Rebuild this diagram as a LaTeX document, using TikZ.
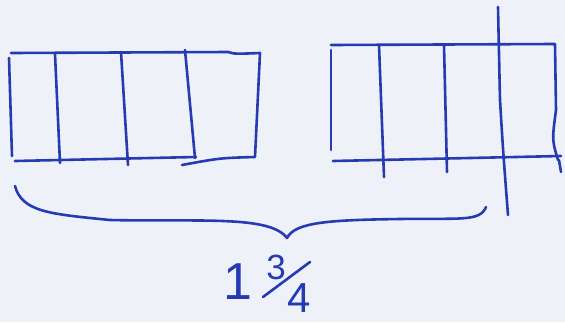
\documentclass[tikz,border=0pt]{standalone}
\usepackage{fontspec}
\setmainfont{Liberation Sans}
\definecolor{ink}{RGB}{38,58,178}
\definecolor{paper}{RGB}{238,242,248}
\begin{document}
\begin{tikzpicture}[x=1pt,y=-1pt,
  pen/.style={draw=ink,line width=2.6pt,line cap=round,line join=round},
  hand/.style={text=ink,inner sep=0pt}]
\fill[paper] (0,0) rectangle (565,322);
\useasboundingbox (0,0) rectangle (565,322);
% left bar
\coordinate (lA) at (11,53);
\coordinate (lB) at (228,52);
\coordinate (lC) at (260,53);
\coordinate (lD) at (255,157);
\coordinate (lE) at (182,165);
\coordinate (lF) at (15,161);
\coordinate (lG) at (196,157);
\draw[pen] (lA) -- (lB) .. controls (235,54) .. (lC) -- (lD) .. controls (220,158) .. (lE);
\draw[pen] (lF) -- (lG);
\draw[pen] (9,58) -- (12,156);
\draw[pen] (55,54) -- (60,163);
\draw[pen] (121,52) -- (128,165);
\draw[pen] (185,50) -- (195,158);
% right bar
\coordinate (rA) at (331,45);
\coordinate (rB) at (555,44);
\coordinate (rC) at (558,160);
\coordinate (rD) at (333,161);
\draw[pen] (rA) -- (rB) -- (556,110) .. controls (552,140) .. (rC);
\draw[pen] (rD) -- (561,156);
\draw[pen] (331,50) -- (331,150);
\draw[pen] (559,160) -- (561,172);
\draw[pen] (379,45) -- (384,177);
\draw[pen] (444,45) -- (447,172);
\draw[pen] (498,7) -- (500,100) .. controls (503,150) .. (508,215);
% brace
\coordinate (bL) at (15,186);
\coordinate (bT) at (287,238);
\coordinate (bR) at (486,207);
\draw[pen] (bL) .. controls (22,212) and (50,214) .. (110,220)
  .. controls (200,222) and (270,215) .. (bT)
  .. controls (295,222) and (330,220) .. (400,219)
  .. controls (460,218) and (480,222) .. (bR);
% label 1 3/4
\node[hand,font=\fontsize{52}{52}\selectfont] (one) at (238,282) {1};
\node[hand,font=\fontsize{35}{35}\selectfont] (three) at (276,267) {3};
\node[hand,font=\fontsize{42}{42}\selectfont] (four) at (299,298) {4};
\draw[pen] (263,297) -- (310,262);
\end{tikzpicture}
\end{document}
